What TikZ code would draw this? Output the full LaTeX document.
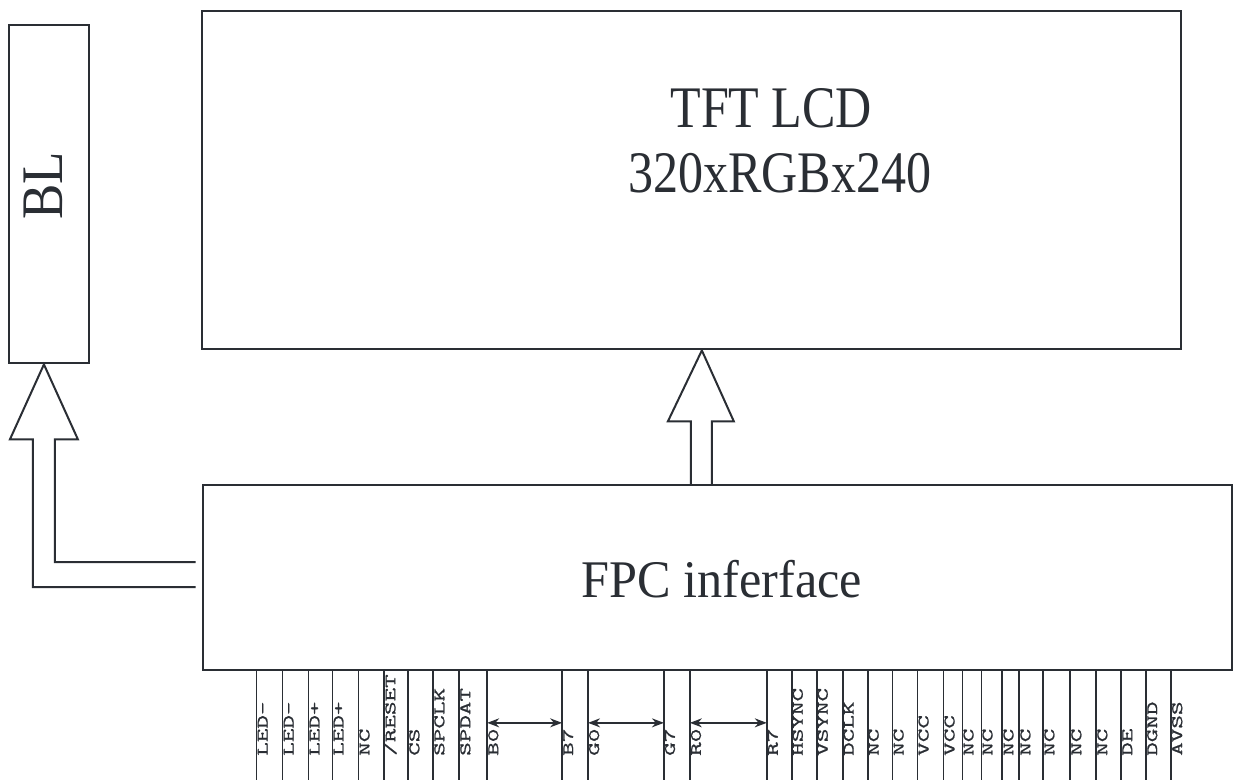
\documentclass[tikz,border=0pt]{standalone}
\usepackage{fontspec}
\setmainfont{Liberation Serif}
\newfontfamily\pinfont[FakeStretch=1.65,FakeBold=1.2]{Latin Modern Mono}
\newfontfamily\tftfont[FakeStretch=0.85]{Liberation Serif}
\newfontfamily\fpcfont[FakeStretch=0.95]{Liberation Serif}
\newfontfamily\blfont[FakeStretch=0.9]{Liberation Serif}
\usetikzlibrary{arrows.meta,calc}
\definecolor{ink}{RGB}{42,46,52}
\begin{document}
\begin{tikzpicture}[x=1pt,y=-1pt,
  every path/.style={draw=ink,line width=2pt},
  box/.style={draw=ink,line width=2pt,rectangle,inner sep=0pt,anchor=north west},
  bigtext/.style={text=ink,inner sep=0pt,anchor=base},
  pinlabel/.style={text=ink,inner sep=0pt,anchor=base west,rotate=90,font=\pinfont\fontsize{16}{16}\selectfont},
  pinline/.style={draw=ink,line width=1.8pt},
  bus/.style={draw=ink,line width=1.5pt,{Stealth[length=12pt,width=9pt]}-{Stealth[length=12pt,width=9pt]}}]
\useasboundingbox (0,0) rectangle (1234,780);
\fill[white] (0,0) rectangle (1234,780);
% boxes
\node[box,minimum width=981pt,minimum height=339pt] (tft) at (200,9) {};
\node[box,minimum width=80pt,minimum height=339pt] (bl) at (7,23) {};
\node[box,minimum width=1031pt,minimum height=185pt] (fpc) at (201,484) {};
% texts
\node[bigtext,font=\tftfont\fontsize{59}{59}\selectfont] (t1) at (771.5,127) {TFT LCD};
\node[bigtext,font=\tftfont\fontsize{59}{59}\selectfont] (t2) at (780,192) {320xRGBx240};
\node[bigtext,font=\fpcfont\fontsize{53}{53}\selectfont] (t3) at (722,597) {FPC inferface};
\node[text=ink,inner sep=0pt,anchor=base west,rotate=90,font=\blfont\fontsize{59}{59}\selectfont] (t4) at (62,220) {BL};
% hollow arrow FPC -> TFT
\draw[line join=miter] (691,0 |- fpc.north) -- (691,421) -- (668,421) -- (702,0 |- tft.south)
  -- (734,421) -- (712,421) -- (712,0 |- fpc.north);
% hollow arrow FPC -> BL
\coordinate (blin) at ($(fpc.west)+(-6,-15.5)$);
\coordinate (blout) at ($(fpc.west)+(-6,9.5)$);
\draw[line join=miter] (blin) -- (54,0 |- blin) -- (54,439) -- (77,439) -- (43,0 |- bl.south)
  -- (9,439) -- (32,439) -- (32,0 |- blout) -- (blout);
% pins
\foreach \x/\lab in {256/{LED-},282/{LED-},308/{LED+},332/{LED+},358/NC,384/{/RESET},408/CS,433/SPCLK,459/SPDAT,
  487/B0,562/B7,588/G0,664/G7,690/R0,767/R7,792/HSYNC,817/VSYNC,843/DCLK,868/NC,893/NC,918/VCC,944/VCC,
  963/NC,982/NC,1003/NC,1020/NC,1044/NC,1071/NC,1097/NC,1122/DE,1147/DGND,1172/AVSS}{
  \draw[pinline] (\x,0 |- fpc.south) -- (\x,780);
  \node[pinlabel] (p\x) at (\x+11,757) {\lab};
}
% bus arrows
\draw[bus] (487,723) -- (562,723);
\draw[bus] (588,723) -- (664,723);
\draw[bus] (690,723) -- (767,723);
\end{tikzpicture}
\end{document}
